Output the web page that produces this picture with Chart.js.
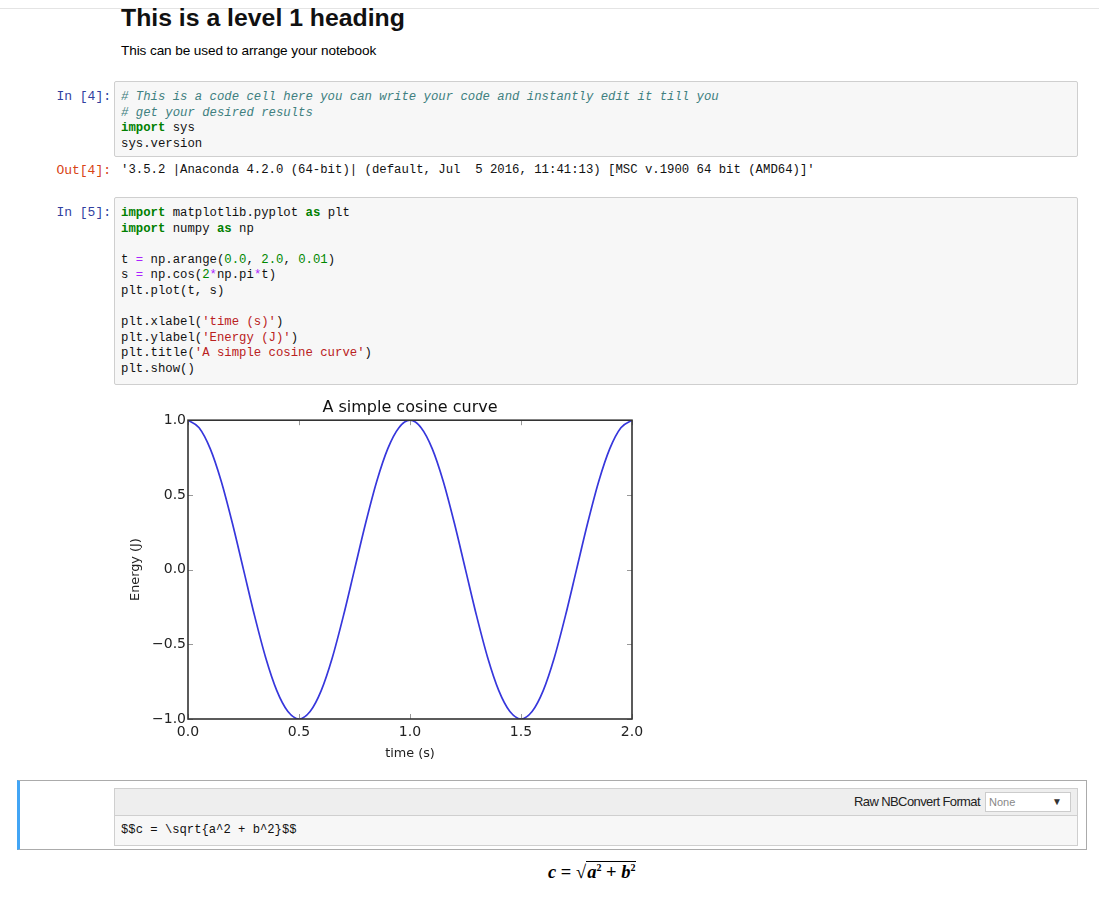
<!DOCTYPE html>
<html>
<head>
<meta charset="utf-8">
<script src="https://cdn.jsdelivr.net/npm/chart.js@4"></script>
<style>
  body { margin: 0; background: #fff; font-family: "Liberation Sans", Arial, sans-serif; color: #000; }
  .topbar { position: absolute; left: 0; top: 0; width: 1099px; height: 8px; border-bottom: 1px solid #e4e4e4; }
  h1 { position: absolute; left: 121px; top: 4px; margin: 0; font-size: 24.8px; line-height: 28px; font-weight: bold; color: #111; }
  .para { position: absolute; left: 121px; top: 43px; font-size: 13.6px; line-height: 16px; letter-spacing: -0.1px; }
  .prompt { position: absolute; width: 100px; left: 11px; text-align: right; font-family: "Liberation Mono", monospace; font-size: 13px; line-height: 16px; }
  .pin { color: #303F9F; }
  .pout { color: #D84315; }
  .cell { position: absolute; left: 114px; width: 962px; background: #f7f7f7; border: 1px solid #cfcfcf; border-radius: 2px; }
  pre { margin: 0; padding: 8px 0 0 6px; font-family: "Liberation Mono", monospace; font-size: 12.3px; line-height: 15.6px; color: #111; }
  .out { position: absolute; left: 121px; top: 163px; }
  .cm { color: #408080; font-style: italic; }
  .kw { color: #008000; font-weight: bold; }
  .nu { color: #080; }
  .st { color: #BA2121; }
  .op { color: #AA22FF; }
  #chartBox { position: absolute; left: 115px; top: 395px; }
  .raw { position: absolute; left: 17px; top: 780px; width: 1066px; height: 68px; border: 1px solid #ababab; border-left: 3px solid #42A5F5; }
  .rawbar { position: absolute; left: 114px; top: 788px; width: 962px; height: 26px; background: #eeeeee; border: 1px solid #cfcfcf; }
  .rawlabel { position: absolute; right: 97px; top: 5px; font-size: 13px; letter-spacing: -0.6px; color: #222; }
  .sel { position: absolute; right: 6px; top: 3px; width: 84px; height: 18px; background: #fff; border: 1px solid #ccc; font-size: 11px; line-height: 18px; color: #888; }
  .sel span { position: absolute; left: 3px; }
  .sel b { position: absolute; right: 8px; color: #333; font-size: 10px; }
  .rawtext { position: absolute; left: 114px; top: 815px; width: 962px; height: 29px; background: #f7f7f7; border: 1px solid #cfcfcf; }
  .rawtext pre { padding: 7px 0 0 6px; font-size: 12.2px; }
  .formula { position: absolute; left: 548px; top: 862px; font-family: "Liberation Serif", serif; font-size: 18.5px; font-weight: bold; }
  .rad { border-top: 1px solid #000; padding: 0 1px; }
</style>
</head>
<body>
<div class="topbar"></div>
<h1>This is a level 1 heading</h1>
<div class="para">This can be used to arrange your notebook</div>

<div class="prompt pin" style="top:89px">In [4]:</div>
<div class="cell" style="top:81px;height:74px">
<pre><span class="cm"># This is a code cell here you can write your code and instantly edit it till you</span>
<span class="cm"># get your desired results</span>
<span class="kw">import</span> sys
sys.version</pre>
</div>

<div class="prompt pout" style="top:163px">Out[4]:</div>
<pre class="out" style="padding:0">'3.5.2 |Anaconda 4.2.0 (64-bit)| (default, Jul  5 2016, 11:41:13) [MSC v.1900 64 bit (AMD64)]'</pre>

<div class="prompt pin" style="top:205px">In [5]:</div>
<div class="cell" style="top:197px;height:186px">
<pre><span class="kw">import</span> matplotlib.pyplot <span class="kw">as</span> plt
<span class="kw">import</span> numpy <span class="kw">as</span> np

t <span class="op">=</span> np.arange(<span class="nu">0.0</span>, <span class="nu">2.0</span>, <span class="nu">0.01</span>)
s <span class="op">=</span> np.cos(<span class="nu">2</span><span class="op">*</span>np.pi<span class="op">*</span>t)
plt.plot(t, s)

plt.xlabel(<span class="st">'time (s)'</span>)
plt.ylabel(<span class="st">'Energy (J)'</span>)
plt.title(<span class="st">'A simple cosine curve'</span>)
plt.show()</pre>
</div>

<div id="chartBox"><canvas id="myChart" width="540" height="370"></canvas></div>

<div class="raw"></div>
<div class="rawbar">
  <div class="rawlabel">Raw NBConvert Format</div>
  <div class="sel"><span>None</span><b>▼</b></div>
</div>
<div class="rawtext"><pre>$$c = \sqrt{a^2 + b^2}$$</pre></div>

<div class="formula"><i>c</i> = √<span class="rad"><i>a</i><sup style="font-size:10px">2</sup> + <i>b</i><sup style="font-size:10px">2</sup></span></div>

<script>
// values, every 0.05 s
var timeValues = [0.00, 0.05, 0.10, 0.15, 0.20, 0.25, 0.30, 0.35, 0.40, 0.45,
                  0.50, 0.55, 0.60, 0.65, 0.70, 0.75, 0.80, 0.85, 0.90, 0.95,
                  1.00, 1.05, 1.10, 1.15, 1.20, 1.25, 1.30, 1.35, 1.40, 1.45,
                  1.50, 1.55, 1.60, 1.65, 1.70, 1.75, 1.80, 1.85, 1.90, 1.95, 2.00]
var energyValues = [1.00, 0.95, 0.81, 0.59, 0.31, 0.00, -0.31, -0.59, -0.81, -0.95,
                    -1.00, -0.95, -0.81, -0.59, -0.31, 0.00, 0.31, 0.59, 0.81, 0.95,
                    1.00, 0.95, 0.81, 0.59, 0.31, 0.00, -0.31, -0.59, -0.81, -0.95,
                    -1.00, -0.95, -0.81, -0.59, -0.31, 0.00, 0.31, 0.59, 0.81, 0.95, 1.00]
var xTicks = [0.0, 0.5, 1.0, 1.5, 2.0]
var yTicks = [-1.0, -0.5, 0.0, 0.5, 1.0]

var points = []
for (var i = 0; i < timeValues.length; i++) {
  points.push({x: timeValues[i], y: energyValues[i]})
}

function fmt(v) {
  return v.toFixed(1).replace('-', '\u2212')
}

// matplotlib style frame with inward ticks on all sides
var framePlugin = {
  id: 'frame',
  afterDatasetsDraw: function(chart) {
    var ctx = chart.ctx, a = chart.chartArea
    var xs = chart.scales.x, ys = chart.scales.y
    ctx.save()
    ctx.strokeStyle = '#999'
    ctx.lineWidth = 1
    xTicks.forEach(function(v) {
      var px = Math.round(xs.getPixelForValue(v)) + 0.5
      ctx.beginPath()
      ctx.moveTo(px, a.bottom); ctx.lineTo(px, a.bottom - 5)
      ctx.moveTo(px, a.top); ctx.lineTo(px, a.top + 5)
      ctx.stroke()
    })
    yTicks.forEach(function(v) {
      var py = Math.round(ys.getPixelForValue(v)) + 0.5
      ctx.beginPath()
      ctx.moveTo(a.left, py); ctx.lineTo(a.left + 5, py)
      ctx.moveTo(a.right, py); ctx.lineTo(a.right - 5, py)
      ctx.stroke()
    })
    ctx.strokeStyle = '#333'
    ctx.lineWidth = 1.6
    ctx.strokeRect(a.left, a.top, a.right - a.left, a.bottom - a.top)
    ctx.restore()
  }
}

var ctx = document.getElementById('myChart').getContext('2d')
var chart = new Chart(ctx, {
  type: 'line',
  data: {
    datasets: [{
      data: points,
      borderColor: 'rgb(55,55,220)',
      borderWidth: 1.7,
      pointRadius: 0,
      cubicInterpolationMode: 'monotone',
      fill: false
    }]
  },
  options: {
    responsive: false,
    animation: false,
    layout: { padding: { left: 10, right: 23, top: 0, bottom: 0 } },
    plugins: {
      legend: { display: false },
      tooltip: { enabled: false },
      title: {
        display: true,
        text: 'A simple cosine curve',
        fullSize: false,
        color: '#111',
        font: { family: 'DejaVu Sans', size: 16, weight: 'normal' },
        padding: { top: 3, bottom: 3 }
      }
    },
    scales: {
      x: {
        type: 'linear',
        min: 0, max: 2,
        afterFit: function(s) { s.height = 46 },
        grid: { display: false, drawTicks: false },
        border: { display: false },
        ticks: {
          stepSize: 0.5, padding: 5, color: '#222', maxRotation: 0,
          font: { family: 'DejaVu Sans', size: 14 },
          callback: function(v) { return fmt(v) }
        },
        title: {
          display: true, text: 'time (s)', color: '#222',
          font: { family: 'DejaVu Sans', size: 12.8 },
          padding: { top: 3, bottom: 4 }
        }
      },
      y: {
        min: -1, max: 1,
        afterFit: function(s) { s.width = 63 },
        grid: { display: false, drawTicks: false },
        border: { display: false },
        ticks: {
          stepSize: 0.5, padding: 2, color: '#222',
          font: { family: 'DejaVu Sans', size: 14 },
          callback: function(v) { return fmt(v) }
        },
        title: {
          display: true, text: 'Energy (J)', color: '#222',
          font: { family: 'DejaVu Sans', size: 12.8 },
          padding: { top: 3, bottom: 4 }
        }
      }
    }
  },
  plugins: [framePlugin]
})
</script>
</body>
</html>
